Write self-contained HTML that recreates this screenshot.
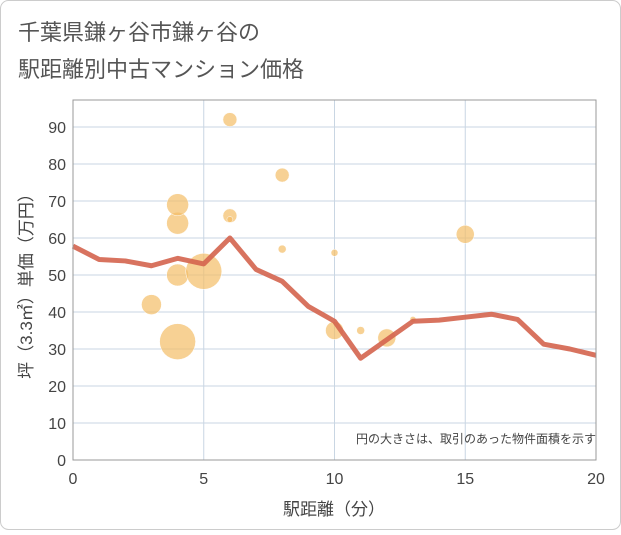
<!DOCTYPE html>
<html><head><meta charset="utf-8"><style>
body{margin:0;background:#fff;}
svg text{font-family:"Liberation Sans","Noto Sans CJK JP",sans-serif;}
</style></head><body>
<svg width="621" height="530" xmlns="http://www.w3.org/2000/svg">
<rect x="0.5" y="0.5" width="620" height="529" rx="8" fill="#fff" stroke="#ccc"/>
<text x="18" y="40" font-size="22" fill="#555">千葉県鎌ヶ谷市鎌ヶ谷の</text>
<text x="18" y="77" font-size="22" fill="#555">駅距離別中古マンション価格</text>
<g id="grid"></g>
<g id="bubbles"></g>
<g id="line"></g>
<g id="axes"></g>
<text x="596" y="443" font-size="12" fill="#444" text-anchor="end">円の大きさは、取引のあった物件面積を示す</text>
<text x="334" y="515" font-size="17" fill="#444" text-anchor="middle">駅距離（分）</text>
<text transform="translate(32,282) rotate(-90)" font-size="17" fill="#444" text-anchor="middle">坪（3.3㎡）単価（万円）</text>
</svg>
<script>
const xTicks=[0,5,10,15,20];
const yTicks=[0,10,20,30,40,50,60,70,80,90];
const lineX=[0,1,2,3,4,5,6,7,8,9,10,11,12,13,14,15,16,17,18,19,20];
const lineY=[57.8,54.2,53.8,52.5,54.5,53,60,51.5,48.3,41.5,37.5,27.5,32.5,37.5,37.8,38.6,39.4,38,31.3,30,28.3];
const bubX=[3,4,4,4,4,5,6,6,6,8,8,10,10,11,12,13,15];
const bubY=[42,32,50,64,69,51,92,66,65,77,57,56,35,35,33,38,61];
const bubR=[10,18,11,11,11,18,7,7,3,7,4,3.5,9,4,9,3,9];
const X0=73,X1=596,Y0=460,Ytop=100;
const sx=v=>X0+(X1-X0)*v/20;
const sy=v=>Y0-(Y0-127)*v/90;
const NS="http://www.w3.org/2000/svg";
function mk(t,a,p){const e=document.createElementNS(NS,t);for(const k in a)e.setAttribute(k,a[k]);p.appendChild(e);return e;}
const g=document.getElementById('grid'),ax=document.getElementById('axes');
yTicks.forEach(v=>{const l=mk('line',{x1:X0,x2:X1,y1:sy(v),y2:sy(v),stroke:'#c9d6e3','stroke-width':1},g);


const t=mk('text',{x:X0-7,y:sy(v)+6,'font-size':16,fill:'#444','text-anchor':'end'},ax);t.textContent=v;

});
xTicks.forEach(v=>{const l=mk('line',{x1:sx(v),x2:sx(v),y1:Ytop,y2:Y0,stroke:'#c9d6e3','stroke-width':1},g);


const t=mk('text',{x:sx(v),y:Y0+24,'font-size':16,fill:'#444','text-anchor':'middle'},ax);t.textContent=v;

});
const fr=mk('rect',{x:X0,y:Ytop,width:X1-X0,height:Y0-Ytop,fill:'none',stroke:'#999','stroke-width':1},ax);


const b=document.getElementById('bubbles');
bubX.forEach((x,i)=>{const c=mk('circle',{cx:sx(x),cy:sy(bubY[i]),r:bubR[i],fill:'#f3bd66','fill-opacity':0.7,stroke:'#fff','stroke-width':0.5},b);

});
const p=mk('polyline',{points:lineX.map((x,i)=>sx(x)+','+sy(lineY[i])).join(' '),fill:'none',stroke:'#d4644e','stroke-width':5,'stroke-linejoin':'round','stroke-opacity':0.9},document.getElementById('line'));


</script>
</body></html>
